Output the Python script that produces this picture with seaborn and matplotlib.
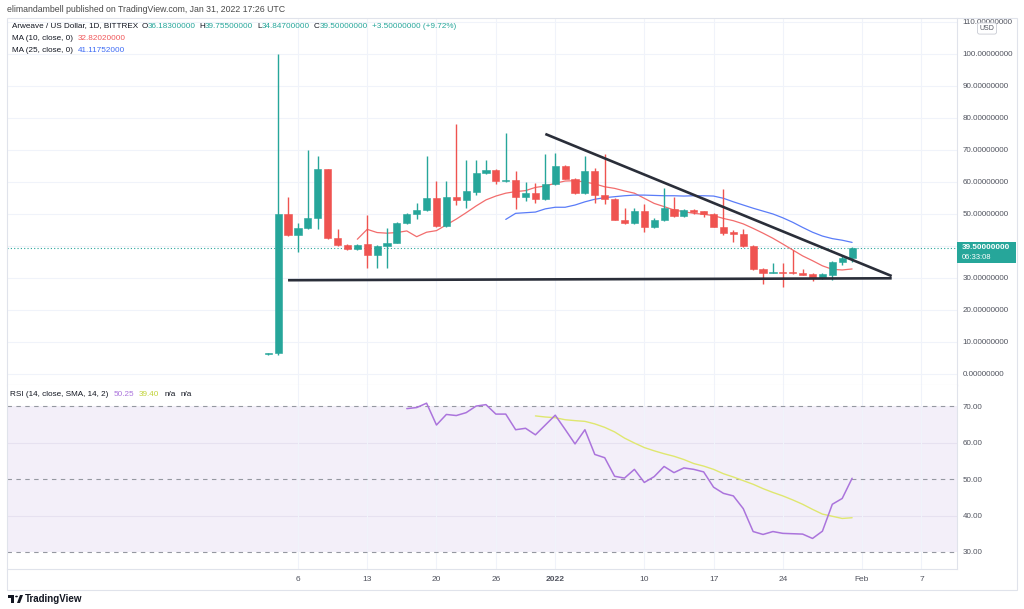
import numpy as np
import pandas as pd
import matplotlib
matplotlib.use("Agg")
import matplotlib.pyplot as plt
import matplotlib.dates as mdates
from matplotlib.patches import Rectangle, Circle, Polygon
from matplotlib.text import Annotation
import seaborn as sns

# ---------------- data ----------------
candle_start = "2021-12-03"
opens = [6.2, 6.5, 50.0, 43.4, 45.6, 48.7, 64.0, 42.5, 40.3, 39.0,
         40.6, 37.2, 40.0, 41.0, 47.2, 50.0, 51.2, 55.0, 46.2, 55.2,
         54.5, 56.9, 62.8, 63.8, 60.3, 60.6, 55.3, 56.6, 54.7,
         59.4, 65.0, 61.0, 56.6, 63.4, 56.0, 54.7, 48.1, 47.2, 51.0,
         46.0, 48.2, 51.6, 49.4, 51.2, 50.9, 50.0, 46.0, 44.4, 43.7,
         40.0, 32.8, 31.6, 32.0, 31.6, 31.4, 31.2, 30.0, 31.0, 34.9, 36.183]
highs = [6.6, 100.0, 55.3, 47.2, 70.0, 68.0, 64.2, 45.3, 40.5, 40.5,
         49.7, 40.2, 45.6, 47.5, 50.2, 53.4, 68.0, 60.3, 60.3, 78.0,
         67.0, 67.0, 67.0, 64.0, 75.3, 63.4, 60.0, 59.7, 68.8,
         69.0, 65.2, 61.2, 68.0, 64.5, 68.8, 55.0, 52.0, 52.0, 53.0,
         48.6, 58.0, 55.3, 51.4, 51.5, 51.0, 50.3, 57.8, 45.0, 45.3,
         40.2, 33.0, 34.7, 34.8, 38.8, 32.8, 31.4, 31.4, 35.2, 36.9, 39.755]
lows = [6.0, 6.0, 43.0, 38.0, 45.4, 45.3, 42.3, 40.0, 38.8, 38.8,
        33.0, 33.0, 33.0, 40.8, 47.0, 48.4, 51.0, 46.0, 46.0, 52.8,
        52.0, 56.0, 62.5, 59.4, 60.0, 51.6, 54.0, 53.4, 54.5,
        59.0, 60.8, 56.4, 56.4, 53.4, 53.0, 48.0, 46.9, 47.0, 44.4,
        45.6, 47.8, 49.2, 49.0, 50.0, 49.0, 45.8, 43.4, 41.2, 39.8,
        32.6, 28.1, 31.4, 27.3, 31.2, 30.8, 29.0, 29.8, 29.4, 34.0, 34.847]
closes = [6.5, 50.0, 43.4, 45.6, 48.7, 64.0, 42.5, 40.3, 39.0, 40.3,
          37.2, 40.0, 41.0, 47.2, 50.0, 51.2, 55.0, 46.2, 55.2, 54.5,
          57.2, 62.8, 63.8, 60.3, 60.6, 55.3, 56.6, 54.7, 59.4,
          65.0, 61.0, 56.6, 63.4, 56.0, 54.7, 48.1, 47.2, 51.0, 46.0,
          48.2, 52.0, 49.4, 51.2, 50.6, 50.0, 46.0, 44.0, 43.7, 40.0,
          32.8, 31.6, 32.0, 31.6, 31.4, 31.0, 30.0, 31.2, 35.0, 36.183, 39.5]

ma10_start = "2021-12-12"
ma10 = [42.1, 45.2, 44.2, 44.0, 44.2, 44.7, 42.9, 44.3, 44.8, 46.6,
        48.4, 50.4, 52.5, 54.4, 55.6, 56.5, 57.0, 57.3, 58.3, 58.75,
        59.6, 60.3, 60.4, 60.0, 59.4, 58.5, 58.0, 57.2, 56.5, 54.9,
        53.3, 52.3, 51.25, 50.7, 50.2, 49.9, 49.5, 48.6, 47.9, 46.9,
        45.5, 44.0, 42.4, 40.6, 38.75, 36.9, 35.4, 33.8, 32.7, 32.5, 32.82]
ma25_start = "2021-12-27"
ma25 = [48.3, 50.2, 50.4, 50.6, 51.6, 52.1, 52.1, 52.8, 53.8, 54.6,
        55.1, 55.4, 55.7, 55.9, 55.9, 55.8, 55.7, 55.7, 55.6, 55.7,
        55.7, 55.6, 54.9, 53.8, 52.8, 51.8, 50.9, 50.0, 48.8, 47.4,
        45.8, 44.3, 43.1, 42.3, 41.8, 41.12]

rsi_start = "2021-12-17"
rsi = [69.4, 69.7, 70.9, 64.9, 67.8, 67.5, 68.3, 70.1, 70.5, 67.9,
       67.9, 63.6, 64.0, 62.2, 64.9, 67.6, 63.7, 59.7, 63.6, 56.8,
       55.9, 50.8, 50.3, 52.7, 49.1, 50.7, 53.5, 51.8, 53.1, 52.7,
       52.0, 47.8, 46.1, 45.4, 41.9, 35.6, 34.8, 35.6, 35.1, 35.0,
       34.9, 33.7, 35.7, 43.1, 44.7, 50.25]
rsi_ma_start = "2021-12-30"
rsi_ma = [67.4, 67.1, 66.9, 66.35, 66.1, 65.9, 65.2, 64.25, 63.0, 61.3,
          59.95, 58.7, 57.8, 57.0, 56.3, 55.4, 54.3, 53.6, 52.7, 51.5,
          50.6, 49.6, 48.6, 47.4, 46.35, 45.4, 44.3, 43.1, 41.7, 40.4,
          39.8, 39.2, 39.4]

trend_dates = ["2021-12-31", "2022-02-04"]
trend_prices = [75.0, 30.6]
support_dates = ["2021-12-05", "2022-02-04"]
support_prices = [29.3, 29.9]
last_price = 39.5

x_tick_dates = ["2021-12-06", "2021-12-13", "2021-12-20", "2021-12-26", "2022-01-01",
                "2022-01-10", "2022-01-17", "2022-01-24", "2022-02-01", "2022-02-07"]
x_tick_labels = ["6", "13", "20", "26", "2022", "10", "17", "24", "Feb", "7"]
price_ticks = [0, 10, 20, 30, 40, 50, 60, 70, 80, 90, 100, 110]
rsi_ticks = [30, 40, 50, 60, 70]

# ---------------- style ----------------
UP, DOWN = "#26a69a", "#ef5350"
GRID = "#f0f3fa"
BORDER = "#e0e3eb"
TXT = "#50535e"
DARK = "#131722"

sns.set_theme(style="white")
plt.rcParams["font.family"] = ["Liberation Sans", "DejaVu Sans"]

W, H = 1024, 609
fig = plt.figure(figsize=(W / 100, H / 100), dpi=100)
fig.patch.set_facecolor("white")


def rect(x0, y0, x1, y1):
    return [x0 / W, 1 - y1 / H, (x1 - x0) / W, (y1 - y0) / H]


ax = fig.add_axes(rect(7, 18, 957, 385))
ax2 = fig.add_axes(rect(7, 385, 957, 569), sharex=ax)

# ---------------- candles ----------------
dates = pd.date_range(candle_start, periods=len(opens), freq="D")
df = pd.DataFrame(dict(date=dates, open=opens, high=highs, low=lows, close=closes))
up = df["close"] >= df["open"]
cols = np.where(up, UP, DOWN)
body_lo = np.minimum(df["open"], df["close"])
body_h = np.maximum(np.abs(df["close"] - df["open"]), 0.35)
ax.vlines(df["date"], df["low"], df["high"], colors=cols, lw=1.0, zorder=3)
ax.bar(df["date"], body_h, bottom=body_lo, width=0.72, color=cols,
       edgecolor=cols, lw=0.4, zorder=4)

# moving averages
ma10_dates = pd.date_range(ma10_start, periods=len(ma10), freq="D")
ma25_dates = pd.date_range(ma25_start, periods=len(ma25), freq="D")
sns.lineplot(x=ma10_dates, y=ma10, ax=ax, color="#f26d6d", lw=0.9, zorder=2)
sns.lineplot(x=ma25_dates, y=ma25, ax=ax, color="#5a7cf8", lw=0.9, zorder=2)

# trend lines
ax.plot(pd.to_datetime(trend_dates), trend_prices, color="#2a2e39", lw=1.9,
        solid_capstyle="butt", zorder=5)
ax.plot(pd.to_datetime(support_dates), support_prices, color="#2a2e39", lw=1.9,
        solid_capstyle="butt", zorder=5)

# last price dotted line
ax.axhline(last_price, color=UP, lw=0.8, ls=(0, (1, 2)), zorder=1)

# ---------------- RSI ----------------
rsi_dates = pd.date_range(rsi_start, periods=len(rsi), freq="D")
rsi_ma_dates = pd.date_range(rsi_ma_start, periods=len(rsi_ma), freq="D")
ax2.axhspan(30, 70, color="#7e57c2", alpha=0.09, lw=0, zorder=0)
for v in (40, 60):
    ax2.axhline(v, color="#e6e1f0", lw=0.8, zorder=0.5)
for v in (30, 50, 70):
    ax2.axhline(v, color="#9598a1", lw=0.8, ls=(0, (4, 4)), zorder=1)
sns.lineplot(x=rsi_dates, y=rsi, ax=ax2, color="#ab74dc", lw=1.1, zorder=3)
sns.lineplot(x=rsi_ma_dates, y=rsi_ma, ax=ax2, color="#dfe76f", lw=1.0, zorder=2)

# ---------------- axes ----------------
d0 = mdates.date2num(pd.Timestamp("2021-12-06"))
ax.set_xlim(d0 - 29.4, d0 + 66.6)
ax.set_ylim(-3.45, 111.25)
ax2.set_ylim(25.3, 75.9)

xt = pd.to_datetime(x_tick_dates)
ax2.set_xticks(xt)
ax2.set_xticklabels(x_tick_labels)
for i, lab in enumerate(ax2.get_xticklabels()):
    if x_tick_labels[i] == "2022":
        lab.set_color(DARK)
        lab.set_fontweight("bold")

for a in (ax, ax2):
    a.set_facecolor("white")
    a.set_xlabel("")
    a.set_ylabel("")
    a.grid(True, axis="x", color=GRID, lw=0.8, zorder=0)
    a.yaxis.tick_right()
    a.tick_params(axis="y", length=0, pad=4, labelsize=5.8, labelcolor=TXT)
    for s in ("left", "top"):
        a.spines[s].set_visible(False)
    a.spines["right"].set_color(BORDER)
    a.spines["bottom"].set_color(BORDER)
    a.spines["right"].set_linewidth(0.8)
    a.spines["bottom"].set_linewidth(0.8)

ax.set_yticks(price_ticks)
ax.set_yticklabels(["" if v == 40 else f"{v:.8f}" for v in price_ticks])
ax.grid(True, axis="y", color=GRID, lw=0.8, zorder=0)
ax.tick_params(axis="x", length=0, labelbottom=False)

ax2.set_yticks(rsi_ticks)
ax2.set_yticklabels([f"{v:.2f}" for v in rsi_ticks])
ax2.grid(False, axis="y")
ax2.tick_params(axis="x", length=0, pad=5, labelsize=6, labelcolor=TXT)

# ---------------- frame and labels ----------------
fig.add_artist(Rectangle((7 / W, 1 - 590 / H), (1017 - 7) / W, (590 - 18) / H,
                         transform=fig.transFigure, fill=False, ec=BORDER, lw=0.8))


def ftext(x, y, s, **kw):
    return fig.text(x / W, 1 - y / H, s, **kw)


def chain(x, y, parts, size):
    s0, c0 = parts[0][0], parts[0][1]
    prev = ftext(x, y, s0, color=c0, size=size, va="center", ha="left")
    for s, c, gap in parts[1:]:
        ann = Annotation(s, xy=(1, 0.5), xycoords=prev, xytext=(gap, 0),
                         textcoords="offset pixels", va="center", ha="left",
                         color=c, size=size, annotation_clip=False)
        fig.add_artist(ann)
        prev = ann


ftext(7, 9.5, "elimandambell published on TradingView.com, Jan 31, 2022 17:26 UTC",
      color="#4a4a4a", size=6.3, va="center", ha="left")

chain(12, 26, [("Arweave / US Dollar, 1D, BITTREX", DARK, 0),
               ("O", DARK, 3), ("36.18300000", UP, 0),
               ("H", DARK, 4), ("39.75500000", UP, 0),
               ("L", DARK, 4), ("34.84700000", UP, 0),
               ("C", DARK, 4), ("39.50000000", UP, 0),
               ("+3.50000000 (+9.72%)", UP, 4)], 5.9)
chain(12, 38, [("MA (10, close, 0)", DARK, 0), ("32.82020000", "#f0575a", 5)], 5.9)
chain(12, 50, [("MA (25, close, 0)", DARK, 0), ("41.11752000", "#3f6cf5", 5)], 5.9)
chain(10, 395, [("RSI (14, close, SMA, 14, 2)", DARK, 0), ("50.25", "#ab74dc", 5),
                ("39.40", "#c2d33a", 5), ("n/a", DARK, 5), ("n/a", DARK, 5)], 5.9)

# last price tag on the price axis
fig.add_artist(Rectangle((957 / W, 1 - 263 / H), 59 / W, 21 / H,
                         transform=fig.transFigure, fc=UP, ec=UP, lw=0))
ftext(962, 248, "39.50000000", color="white", size=5.9, va="center", ha="left",
      fontweight="bold")
ftext(962, 257.5, "06:33:08", color="white", size=5.5, va="center", ha="left")

# USD badge
ftext(987, 28.5, "USD", color=TXT, size=5, va="center", ha="center",
      bbox=dict(boxstyle="round,pad=0.3", fc="white", ec="#c8cbd3", lw=0.6))

# TradingView logo + text
fig.add_artist(Rectangle((8 / W, 1 - 598 / H), 6 / W, 3 / H, transform=fig.transFigure,
                         fc=DARK, lw=0))
fig.add_artist(Rectangle((11 / W, 1 - 603 / H), 3 / W, 8 / H, transform=fig.transFigure,
                         fc=DARK, lw=0))
fig.add_artist(Circle((16.5 / W, 1 - 596.5 / H), 1.4 / W, transform=fig.transFigure,
                      fc=DARK, lw=0))
fig.add_artist(Polygon([(17 / W, 1 - 603 / H), (20 / W, 1 - 595 / H),
                        (23 / W, 1 - 595 / H), (20 / W, 1 - 603 / H)],
                       closed=True, transform=fig.transFigure, fc=DARK, lw=0))
ftext(25, 598.5, "TradingView", color=DARK, size=7, va="center", ha="left",
      fontweight="bold")

fig.savefig("out.png", dpi=100, facecolor="white")
